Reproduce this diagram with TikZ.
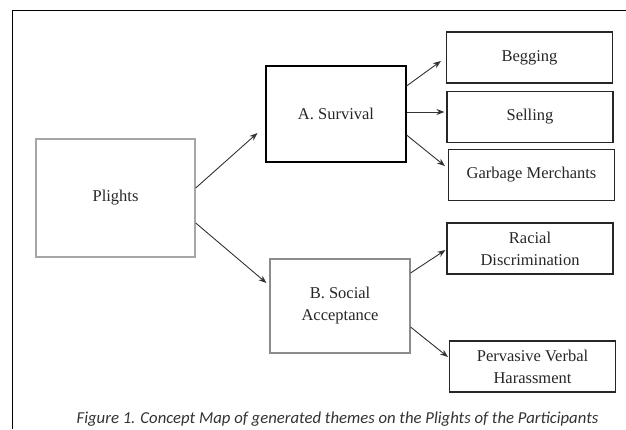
\documentclass[tikz,border=0pt]{standalone}
\usepackage{fontspec}
\setmainfont{Liberation Serif}
\newfontfamily\captionfont{Carlito}
\usetikzlibrary{arrows.meta}
\tikzstyle{theme} = [rectangle, draw=black!85, line width=1.1pt, text centered, align=center, font=\fontsize{16.5}{22}\selectfont, text=black!85]
\tikzstyle{root} = [rectangle, draw=black!35, line width=1.4pt, text centered, font=\fontsize{16.5}{22}\selectfont, text=black!85]
\tikzstyle{leaf} = [theme, minimum width=166pt, minimum height=51pt, inner sep=2pt]
\tikzstyle{arrow} = [line width=0.9pt, draw=black!80, -{Stealth[length=8pt,width=6pt]}]

\begin{document}
\begin{tikzpicture}[x=1pt,y=-1pt]
    \useasboundingbox (0,0) rectangle (626,429);
    \draw [line width=1pt] (12,429) -- (12,10) -- (626,10);
    \node [root, minimum width=159pt, minimum height=118pt] at (115.5,198) (plights) {Plights};
    \node [theme, draw=black, minimum width=140pt, minimum height=96pt] at (336,114) (survival) {A. Survival};
    \node [theme, draw=black!45, minimum width=140pt, minimum height=94pt] at (340,306) (social) {B. Social\\Acceptance};
    \node [leaf] at (529.5,57.5) (begging) {Begging};
    \node [leaf] at (530,117) (selling) {Selling};
    \node [leaf] at (531.5,175) (garbage) {Garbage Merchants};
    \node [leaf] at (530,248.5) (racial) {Racial\\Discrimination};
    \node [leaf] at (532.5,366.5) (verbal) {Pervasive Verbal\\Harassment};
    \node [font=\captionfont\itshape\fontsize{16.7}{19}\selectfont, text=black!80] at (337.5,419) (caption) {Figure 1. Concept Map of generated themes on the Plights of the Participants};
    \draw [arrow] ([yshift=10pt]plights.east) -- ([xshift=-8pt,yshift=-19pt]survival.west);
    \draw [arrow] ([yshift=-25pt]plights.east) -- ([xshift=-3pt,yshift=23pt]social.west);
    \draw [arrow] ([yshift=28pt]survival.east) -- ([xshift=-5pt,yshift=-3.5pt]begging.west);
    \draw [arrow] ([yshift=2pt]survival.east) -- ([xshift=-2pt,yshift=5pt]selling.west);
    \draw [arrow] ([yshift=-21pt]survival.east) -- ([xshift=-3pt,yshift=9pt]garbage.west);
    \draw [arrow] ([yshift=33pt]social.east) -- ([xshift=-1pt,yshift=-1.5pt]racial.west);
    \draw [arrow] ([yshift=-21pt]social.east) -- ([xshift=-1pt,yshift=9.5pt]verbal.west);
\end{tikzpicture}
\end{document}
